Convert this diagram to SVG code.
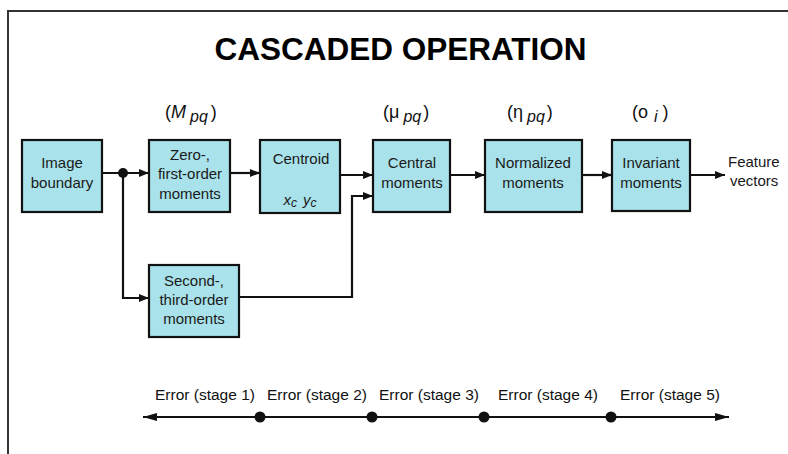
<svg xmlns="http://www.w3.org/2000/svg" width="788" height="454" viewBox="0 0 788 454">
<style>
.box{fill:#a9e2ea;stroke:#111;stroke-width:2.2}
.bt{font-family:"Liberation Sans",Arial,sans-serif;font-size:15px;fill:#1a1a1a;text-anchor:middle}
.ft{font-family:"Liberation Sans",Arial,sans-serif;font-size:15px;fill:#1a1a1a;text-anchor:start}
.lbl{font-family:"Liberation Sans",Arial,sans-serif;font-size:18px;fill:#111}
.sub{font-style:italic;font-size:16px}
.err{font-family:"Liberation Sans",Arial,sans-serif;font-size:15.5px;fill:#111;text-anchor:middle}
.ln{fill:none;stroke:#111;stroke-width:2.2}
</style>
<defs>
<marker id="ah" viewBox="0 0 10 8" refX="10" refY="4" markerWidth="10" markerHeight="8" markerUnits="userSpaceOnUse" orient="auto">
<path d="M0,0 L10,4 L0,8 z" fill="#111"/>
</marker>
<marker id="ah2" viewBox="0 0 14 8" refX="14" refY="4" markerWidth="14" markerHeight="8" markerUnits="userSpaceOnUse" orient="auto-start-reverse">
<path d="M0,0 L14,4 L0,8 z" fill="#111"/>
</marker>
</defs>
<rect width="788" height="454" fill="#fff"/>
<path d="M8,454 V11 H788" fill="none" stroke="#333" stroke-width="2"/>
<text x="400.5" y="60" font-family="'Liberation Sans',Arial,sans-serif" font-size="31.5" font-weight="bold" text-anchor="middle" fill="#000">CASCADED OPERATION</text>

<g id="labels">
<text class="lbl" x="165" y="118">(<tspan font-style="italic">M</tspan><tspan class="sub" dx="4" dy="4">pq</tspan><tspan dx="3" dy="-4">)</tspan></text>
<text class="lbl" x="383" y="118">(μ<tspan class="sub" dx="4" dy="4">pq</tspan><tspan dx="2" dy="-4">)</tspan></text>
<text class="lbl" x="507" y="118">(η<tspan class="sub" dx="4" dy="4">pq</tspan><tspan dx="2" dy="-4">)</tspan></text>
<text class="lbl" x="632" y="118">(o<tspan class="sub" dx="6" dy="4">i</tspan><tspan dx="5" dy="-4">)</tspan></text>
</g>

<g id="connectors">
<path class="ln" d="M102,173 H149" marker-end="url(#ah)"/>
<circle cx="123" cy="173" r="5" fill="#111"/>
<path class="ln" d="M123,173 V298 H149" marker-end="url(#ah)"/>
<path class="ln" d="M230,173 H260" marker-end="url(#ah)"/>
<path class="ln" d="M340,175 H373" marker-end="url(#ah)"/>
<path class="ln" d="M239,297 H352 V196 H373" marker-end="url(#ah)"/>
<path class="ln" d="M450,175 H485" marker-end="url(#ah)"/>
<path class="ln" d="M582,175 H612" marker-end="url(#ah)"/>
<path class="ln" d="M690,175 H725" marker-end="url(#ah)"/>
<path class="ln" d="M143,417 H729" marker-start="url(#ah2)" marker-end="url(#ah2)"/>
<circle cx="260" cy="417" r="5.5" fill="#111"/>
<circle cx="372" cy="417" r="5.5" fill="#111"/>
<circle cx="484" cy="417" r="5.5" fill="#111"/>
<circle cx="611" cy="417" r="5.5" fill="#111"/>
</g>

<g id="image-boundary">
<rect class="box" x="22" y="140" width="80" height="72"/>
<text class="bt" x="62" y="168">Image</text>
<text class="bt" x="62" y="188">boundary</text>
</g>
<g id="zero-first">
<rect class="box" x="149" y="140" width="81" height="72"/>
<text class="bt" x="190" y="160">Zero-,</text>
<text class="bt" x="190" y="179">first-order</text>
<text class="bt" x="190" y="199">moments</text>
</g>
<g id="centroid">
<rect class="box" x="260" y="140" width="80" height="73"/>
<text class="bt" x="301" y="164">Centroid</text>
<text class="bt" x="300" y="205" font-style="italic">x<tspan font-size="12" dy="2">c</tspan><tspan dx="6" dy="-2">y</tspan><tspan font-size="12" dy="2">c</tspan></text>
</g>
<g id="central">
<rect class="box" x="373" y="140" width="77" height="72"/>
<text class="bt" x="412" y="168">Central</text>
<text class="bt" x="412" y="188">moments</text>
</g>
<g id="normalized">
<rect class="box" x="485" y="140" width="97" height="72"/>
<text class="bt" x="533" y="168">Normalized</text>
<text class="bt" x="533" y="188">moments</text>
</g>
<g id="invariant">
<rect class="box" x="612" y="140" width="78" height="71"/>
<text class="bt" x="651" y="168">Invariant</text>
<text class="bt" x="651" y="188">moments</text>
</g>
<g id="second-third">
<rect class="box" x="149" y="265" width="90" height="72"/>
<text class="bt" x="194" y="286">Second-,</text>
<text class="bt" x="194" y="305">third-order</text>
<text class="bt" x="194" y="324">moments</text>
</g>
<g id="feature">
<text class="ft" x="728" y="167">Feature</text>
<text class="ft" x="730" y="186">vectors</text>
</g>

<g id="errors">
<text class="err" x="205" y="400">Error (stage 1)</text>
<text class="err" x="317" y="400">Error (stage 2)</text>
<text class="err" x="429" y="400">Error (stage 3)</text>
<text class="err" x="548" y="400">Error (stage 4)</text>
<text class="err" x="670" y="400">Error (stage 5)</text>
</g>
</svg>
